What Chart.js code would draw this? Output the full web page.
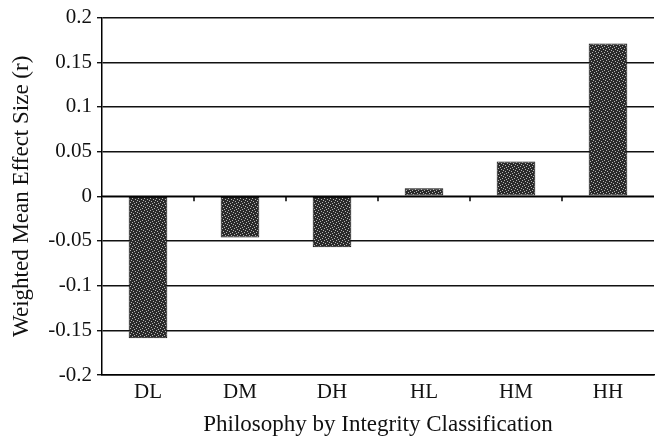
<!DOCTYPE html>
<html lang="en">
<head>
  <meta charset="UTF-8">
  <script src="https://cdn.jsdelivr.net/npm/chart.js@4.4.0/dist/chart.umd.min.js"></script>
  <style>
    body { margin: 0; background: #fff; }
    .wrap { width: 655px; height: 437px; }
  </style>
</head>
<body>
  <div class="wrap"><canvas id="effectChart"></canvas></div>
  <script>
    const categories = ['DL', 'DM', 'DH', 'HL', 'HM', 'HH'];
    const effectSizes = [-0.159, -0.046, -0.057, 0.009, 0.039, 0.171];
    const yTicks = [-0.2, -0.15, -0.1, -0.05, 0, 0.05, 0.1, 0.15, 0.2];

    // speckled dark fill like the scanned bars
    function stipple() {
      const c = document.createElement('canvas');
      c.width = 6; c.height = 6;
      const g = c.getContext('2d');
      g.fillStyle = '#2a2a2a';
      g.fillRect(0, 0, 6, 6);
      g.fillStyle = '#b4b4b4';
      [[0,0],[3,1],[1,3],[4,4],[5,2],[2,5]].forEach(p => g.fillRect(p[0], p[1], 1, 1));
      return g.createPattern(c, 'repeat');
    }

    // category axis crosses at zero: small ticks between categories
    const zeroTicks = {
      id: 'zeroTicks',
      afterDatasetsDraw(chart) {
        const x = chart.scales.x, y = chart.scales.y, g = chart.ctx;
        const y0 = y.getPixelForValue(0);
        g.save();
        g.strokeStyle = '#000';
        g.lineWidth = 1.5;
        g.beginPath();
        g.moveTo(x.left, y0); g.lineTo(x.right, y0);
        for (let i = 1; i < categories.length; i++) {
          const px = (x.getPixelForValue(i - 1) + x.getPixelForValue(i)) / 2;
          g.moveTo(px, y0); g.lineTo(px, y0 + 5);
        }
        g.stroke();
        g.restore();
      }
    };

    const serif = 'Liberation Serif';
    const ctx = document.getElementById('effectChart').getContext('2d');
    new Chart(ctx, {
      type: 'bar',
      data: {
        labels: categories,
        datasets: [{
          data: effectSizes,
          backgroundColor: stipple(),
          borderColor: '#111',
          borderWidth: 1,
          borderSkipped: false,
          categoryPercentage: 1,
          barPercentage: 0.42
        }]
      },
      options: {
        responsive: true,
        maintainAspectRatio: false,
        animation: false,
        layout: { padding: { top: 15, right: 1, left: 0, bottom: 0 } },
        plugins: { legend: { display: false }, tooltip: { enabled: false } },
        scales: {
          x: {
            afterFit: axis => { axis.height = 62; },
            grid: { display: false, drawTicks: false },
            border: { color: '#000', width: 1.5 },
            ticks: { color: '#111', font: { family: serif, size: 21 }, padding: 5 },
            title: {
              display: true,
              text: 'Philosophy by Integrity Classification',
              color: '#111',
              font: { family: serif, size: 23, lineHeight: 1.0 },
              padding: { top: 0, bottom: 1 }
            }
          },
          y: {
            min: -0.2,
            max: 0.2,
            afterFit: axis => { axis.width = 102; },
            afterBuildTicks: axis => { axis.ticks = yTicks.map(v => ({ value: v })); },
            grid: { color: '#111', lineWidth: 1.4, tickLength: 5 },
            border: { color: '#000', width: 1.5 },
            ticks: {
              color: '#111',
              font: { family: serif, size: 21 },
              padding: 5,
              callback: v => String(Number(v.toFixed(2)))
            },
            title: {
              display: true,
              text: 'Weighted Mean Effect Size (r)',
              color: '#111',
              font: { family: serif, size: 23 },
              padding: { top: 8, bottom: 0 }
            }
          }
        }
      },
      plugins: [zeroTicks]
    });
  </script>
</body>
</html>
